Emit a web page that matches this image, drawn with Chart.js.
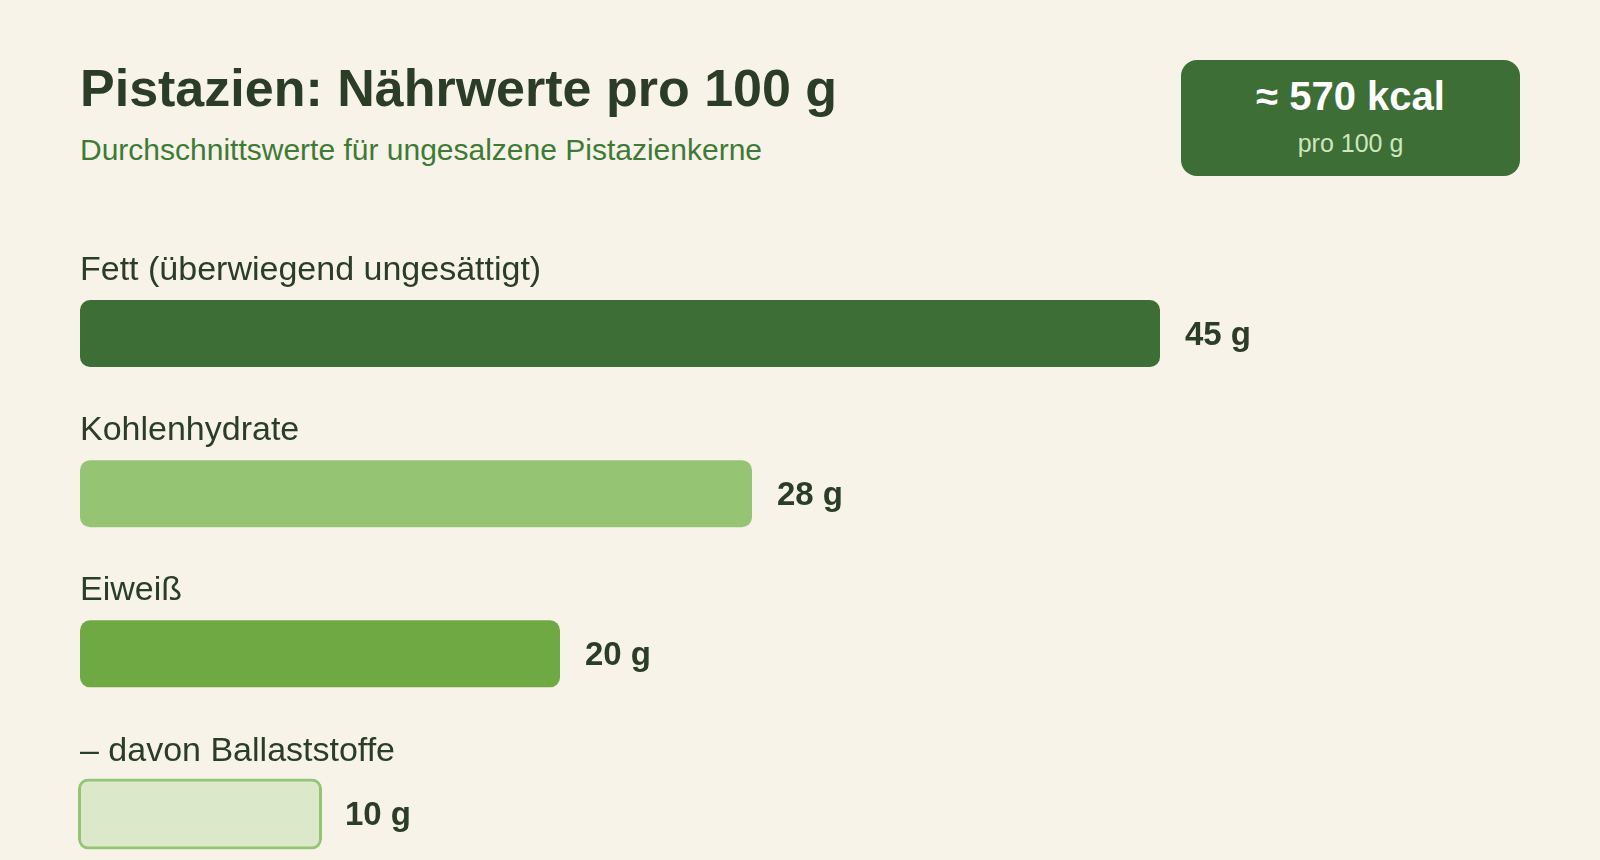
<!DOCTYPE html>
<html lang="de">
<head>
<meta charset="utf-8">
<title>Pistazien: Nährwerte pro 100 g</title>
<script src="https://cdn.jsdelivr.net/npm/chart.js@4"></script>
<style>
  html, body { margin: 0; padding: 0; width: 1600px; height: 860px; overflow: hidden; background: #f7f3e9; font-family: "Liberation Sans", Arial, sans-serif; }
  #title { position: absolute; left: 80px; top: 62px; font-size: 52px; line-height: 52px; font-weight: bold; color: #2b3d26; white-space: nowrap; }
  #subtitle { position: absolute; left: 80px; top: 135px; font-size: 30px; line-height: 30px; color: #3f7a35; white-space: nowrap; }
  #badge { position: absolute; left: 1181px; top: 60px; width: 339px; height: 116px; background: #3c6e35; border-radius: 16px; }
  #badge .kcal { position: absolute; left: 0; right: 0; top: 16px; font-size: 40px; line-height: 40px; font-weight: bold; color: #ffffff; text-align: center; }
  #badge .per { position: absolute; left: 0; right: 0; top: 71px; font-size: 25px; line-height: 25px; color: #cfe6bf; text-align: center; }
  #wrap { position: absolute; left: 0; top: 0; width: 1600px; height: 860px; }
</style>
</head>
<body>
<div id="title">Pistazien: Nährwerte pro 100 g</div>
<div id="subtitle">Durchschnittswerte für ungesalzene Pistazienkerne</div>
<div id="badge">
  <div class="kcal">≈ 570 kcal</div>
  <div class="per">pro 100 g</div>
</div>
<div id="wrap"><canvas id="myChart"></canvas></div>
<script>
const categories = ["Fett (überwiegend ungesättigt)", "Kohlenhydrate", "Eiweiß", "– davon Ballaststoffe"];
const grams = [45, 28, 20, 10];
const unit = "g";

const fillColors = ["#3c6e35", "#95c572", "#6fa943", "#dbe9ca"];
const edgeColors = ["#3c6e35", "#95c572", "#6fa943", "#93c572"];
const edgeWidths = [0, 0, 0, 3];
const outset = [0, 0, 0, 2];

const BAR_H = 67;

// labels above the bars and values right of them
const barText = {
    id: "barText",
    afterDatasetsDraw(chart) {
        const c = chart.ctx;
        const meta = chart.getDatasetMeta(0);
        c.save();
        meta.data.forEach((bar, i) => {
            c.fillStyle = "#2b3d26";
            c.font = "34px 'Liberation Sans', Arial, sans-serif";
            c.textAlign = "left";
            c.textBaseline = "alphabetic";
            c.fillText(categories[i], chart.chartArea.left, bar.y - BAR_H / 2 - 20);

            c.font = "bold 33px 'Liberation Sans', Arial, sans-serif";
            c.textBaseline = "middle";
            c.fillText(grams[i] + " " + unit, bar.x + 25, bar.y + 2);
        });
        c.restore();
    }
};

const chart = new Chart(document.getElementById("myChart"), {
    type: "bar",
    data: {
        labels: categories,
        datasets: [
            {
                data: grams,
                backgroundColor: fillColors,
                borderColor: edgeColors,
                borderWidth: edgeWidths,
                inflateAmount: (ctx) => outset[ctx.dataIndex] || 0,
                borderRadius: 10,
                borderSkipped: false,
                barThickness: BAR_H,
                clip: false,
            },
        ],
    },
    options: {
        indexAxis: "y",
        responsive: true,
        maintainAspectRatio: false,
        animation: false,
        layout: {
            padding: { left: 80, right: 80, top: 333.5, bottom: 46 }
        },
        scales: {
            x: { display: false, min: 0, max: 60 },
            y: { display: false, offset: false }
        },
        plugins: {
            legend: { display: false },
            tooltip: { enabled: false }
        }
    },
    plugins: [barText]
});
</script>
</body>
</html>
